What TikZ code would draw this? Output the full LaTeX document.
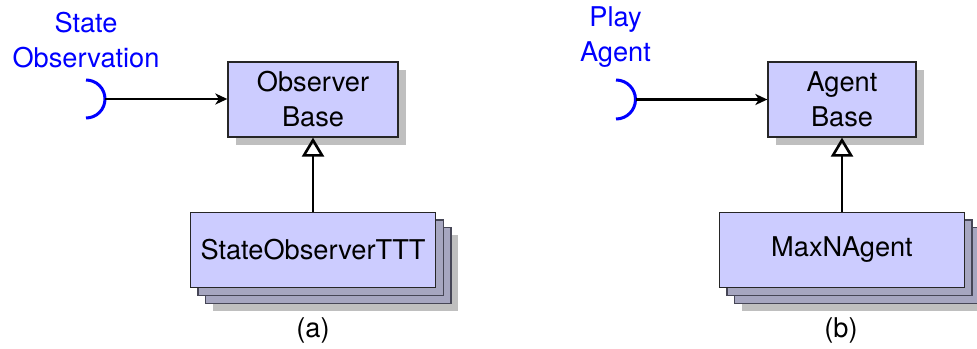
\documentclass[tikz,border=0pt]{standalone}
\usepackage{fontspec}
\setmainfont{TeX Gyre Heros}
\usetikzlibrary{arrows.meta,shadows}

\definecolor{classfill}{RGB}{204,204,255}
\definecolor{stackfill}{RGB}{166,166,192}
\definecolor{stackline}{RGB}{70,70,86}
\definecolor{shadowgray}{RGB}{191,191,191}
\definecolor{ifaceblue}{RGB}{0,0,255}

\tikzset{
  txt/.style={font=\fontsize{27.2}{35}\selectfont},
  classbox/.style={txt, rectangle, draw=black!85, line width=1.3pt, fill=classfill,
    inner sep=0pt, align=center},
  basebox/.style={classbox,
    general shadow={shadow xshift=8pt, shadow yshift=-8pt, fill=shadowgray}},
  stackbox/.style={classbox,
    general shadow={shadow xshift=22.5pt, shadow yshift=-23pt, fill=shadowgray},
    general shadow={shadow xshift=15.2pt, shadow yshift=-15.4pt, fill=stackfill,
      draw=stackline, line width=1.3pt},
    general shadow={shadow xshift=7.6pt, shadow yshift=-7.7pt, fill=stackfill,
      draw=stackline, line width=1.3pt}},
  ifacelabel/.style={txt, text=ifaceblue, align=center, inner sep=0pt, anchor=south},
  socket/.style={draw=ifaceblue, line width=3pt},
  uses/.style={draw=black, line width=2.4pt,
    -{Stealth[length=12pt, width=11pt, inset=3.5pt]}},
  inherits/.style={draw=black, line width=2.8pt,
    -{Triangle[open, length=19pt, width=22pt, line width=2.6pt]}},
  caption/.style={txt, anchor=base, inner sep=0pt}
}

\begin{document}
\begin{tikzpicture}[x=1pt, y=-1pt]
  \path[use as bounding box] (0,0) rectangle (977,348);
  \clip (0,0) rectangle (977,348);

  % ---------- (a) observer ----------
  \node[basebox, minimum width=170pt, minimum height=75pt] (obsbase) at (313,99.5)
    {Observer\\Base};
  \node[stackbox, minimum width=245.5pt, minimum height=75.5pt] (stateobs) at (313,250)
    {StateObserverTTT};

  \coordinate (obsport) at (86,80);
  \draw[socket] (obsport) arc[start angle=90, end angle=-90, radius=19pt]
    coordinate[pos=0.5] (obstip);
  \node[ifacelabel] (obslabel) at (86,68) {State\\Observation};
  \draw[uses] (obstip) -- (obsbase.west |- obstip);

  \draw[inherits] (stateobs.north) -- (obsbase.south);
  \node[caption] (capa) at (313,337) {(a)};

  % ---------- (b) agent ----------
  \node[basebox, minimum width=148pt, minimum height=75pt] (agentbase) at (842,99.5)
    {Agent\\Base};
  \node[stackbox, minimum width=245pt, minimum height=75.5pt] (maxn) at (842,250)
    {MaxNAgent};

  \coordinate (agentport) at (616,80);
  \draw[socket] (agentport) arc[start angle=90, end angle=-90, radius=19.5pt]
    coordinate[pos=0.5] (agenttip);
  \node[ifacelabel] (agentlabel) at (615.5,68) {Play\\Agent};
  \draw[uses] (agenttip) -- (agentbase.west |- agenttip);

  \draw[inherits] (maxn.north) -- (agentbase.south);
  \node[caption] (capb) at (841,337) {(b)};
\end{tikzpicture}
\end{document}
